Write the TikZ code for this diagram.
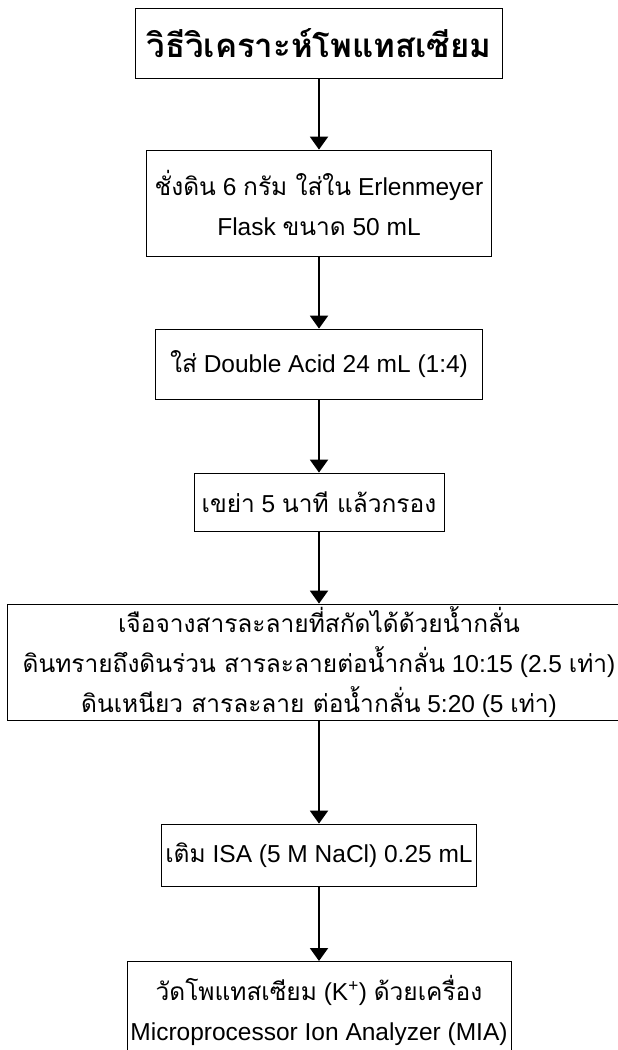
\documentclass[tikz,border=0pt]{standalone}
\usepackage{fontspec}
\setmainfont{Liberation Sans}
\newfontfamily\thaifont[Script=Thai]{Loma}
\usetikzlibrary{arrows.meta}
\newcommand{\thx}[1]{{\thaifont #1}}
\begin{document}
\begin{tikzpicture}[x=1pt,y=-1pt,
  stepbox/.style={draw, line width=0.8pt, inner sep=0pt, align=center,
    font=\fontsize{24.5}{40}\selectfont},
  titlebox/.style={draw, line width=0.8pt, inner sep=0pt, align=center,
    font=\fontsize{33}{40}\selectfont\bfseries},
  arr/.style={line width=2pt, -{Triangle[width=18pt,length=13pt]}}]
\useasboundingbox (0,0) rectangle (618,1050);
\clip (0,0) rectangle (618,1050);
\node[titlebox, minimum width=367pt, minimum height=70pt] (t) at (319,43)
  {\thx{วิธีวิเคราะห์โพแทสเซียม}};
\node[stepbox, minimum width=345pt, minimum height=106pt] (b2) at (319,203)
  {\thx{ชั่งดิน} 6 \thx{กรัม ใส่ใน} Erlenmeyer\\Flask \thx{ขนาด} 50 mL};
\node[stepbox, minimum width=327pt, minimum height=70pt] (b3) at (319,364)
  {\thx{ใส่} Double Acid 24 mL (1:4)};
\node[stepbox, minimum width=250pt, minimum height=58pt] (b4) at (319,502)
  {\thx{เขย่า} 5 \thx{นาที แล้วกรอง}};
\node[stepbox, minimum width=624pt, minimum height=116pt] (b5) at (319,662)
  {\thx{เจือจางสารละลายที่สกัดได้ด้วยน้ำกลั่น}\\
   \thx{ดินทรายถึงดินร่วน สารละลายต่อน้ำกลั่น} 10:15 (2.5 \thx{เท่า})\\
   \thx{ดินเหนียว สารละลาย ต่อน้ำกลั่น} 5:20 (5 \thx{เท่า})};
\node[stepbox, minimum width=315pt, minimum height=62pt] (b6) at (319,855)
  {\thx{เติม} ISA (5 M NaCl) 0.25 mL};
\node[stepbox, minimum width=384pt, minimum height=98pt, anchor=north] (b7) at (319,961)
  {\thx{วัดโพแทสเซียม} (K\textsuperscript{+}) \thx{ด้วยเครื่อง}\\Microprocessor Ion Analyzer (MIA)};
\draw[arr] (t) -- (b2);
\draw[arr] (b2) -- (b3);
\draw[arr] (b3) -- (b4);
\draw[arr] (b4) -- (b5);
\draw[arr] (b5) -- (b6);
\draw[arr] (b6) -- (b7);
\end{tikzpicture}
\end{document}
